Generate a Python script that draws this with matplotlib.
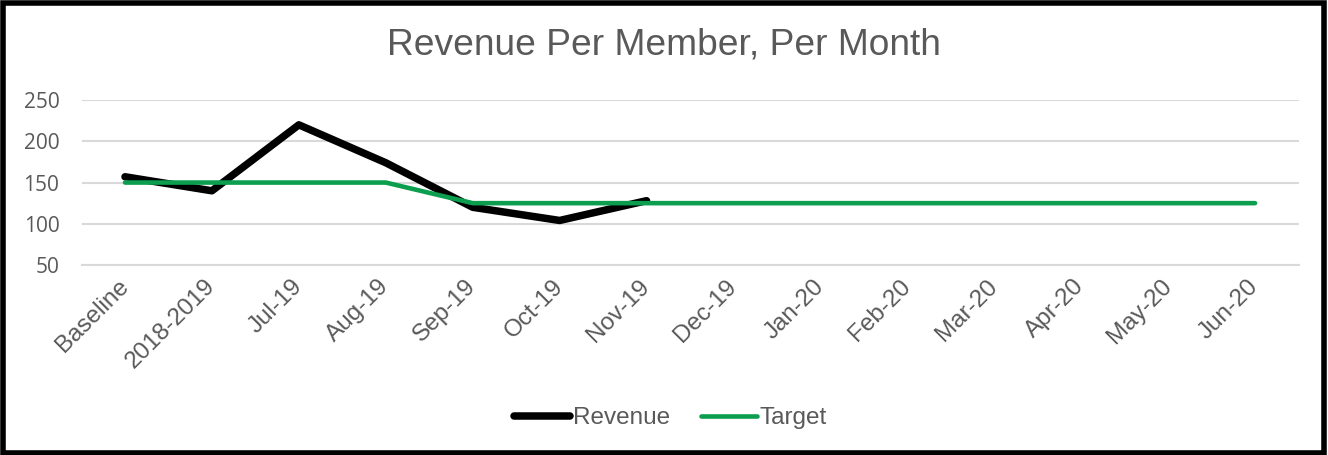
import matplotlib.pyplot as plt
from matplotlib.patches import Rectangle

categories = ["Baseline", "2018-2019", "Jul-19", "Aug-19", "Sep-19", "Oct-19", "Nov-19",
              "Dec-19", "Jan-20", "Feb-20", "Mar-20", "Apr-20", "May-20", "Jun-20"]
revenue = [157, 140, 220, 174, 120, 104, 128]
target = [150, 150, 150, 150, 125, 125, 125, 125, 125, 125, 125, 125, 125, 125]
y_ticks = [50, 100, 150, 200, 250]

text_color = "#595959"
green = "#0a9e4e"

plt.rcParams['font.family'] = ['Liberation Sans', 'DejaVu Sans']

fig = plt.figure(figsize=(13.28, 4.55), dpi=100)
ax = fig.add_axes([0.0614, 0.4176, 0.9164, 0.3624])

x_all = list(range(len(categories)))
ax.plot(x_all[:len(revenue)], revenue, color="black", linewidth=5.4, label="Revenue",
        solid_capstyle="round", zorder=3)
ax.plot(x_all, target, color=green, linewidth=3.3, label="Target",
        solid_capstyle="round", zorder=4)

ax.set_xlim(-0.5, len(categories) - 0.5)
ax.set_ylim(50, 250)
ax.set_yticks(y_ticks)
ax.set_yticklabels([str(v) for v in y_ticks], fontsize=15, color=text_color,
                   family=['Open Sans', 'DejaVu Sans'])
ax.set_xticks(x_all)
ax.set_xticklabels(categories, rotation=45, ha="right", va="center",
                   rotation_mode="anchor", fontsize=17.5, color=text_color)
ax.tick_params(axis="x", length=0, pad=13)
ax.tick_params(axis="y", length=0, pad=16)
ax.grid(axis="y", color="#d9d9d9", linewidth=1.5)
ax.set_axisbelow(True)
for side in ["top", "right", "left"]:
    ax.spines[side].set_visible(False)
ax.spines["bottom"].set_color("#d9d9d9")
ax.spines["bottom"].set_linewidth(1.5)

fig.text(0.5, 0.901, "Revenue Per Member, Per Month", ha="center", va="center",
         fontsize=26.7, color=text_color)

fig.legend(loc="center", bbox_to_anchor=(0.505, 0.081), ncol=2, frameon=False,
           fontsize=17.5, labelcolor=text_color, handlelength=2.3, handletextpad=0.1,
           columnspacing=1.3)

fig.patches.append(Rectangle((0.002, 0.004), 0.995, 0.99, transform=fig.transFigure,
                             fill=False, edgecolor="black", linewidth=4))

fig.savefig("out.png", dpi=100)
